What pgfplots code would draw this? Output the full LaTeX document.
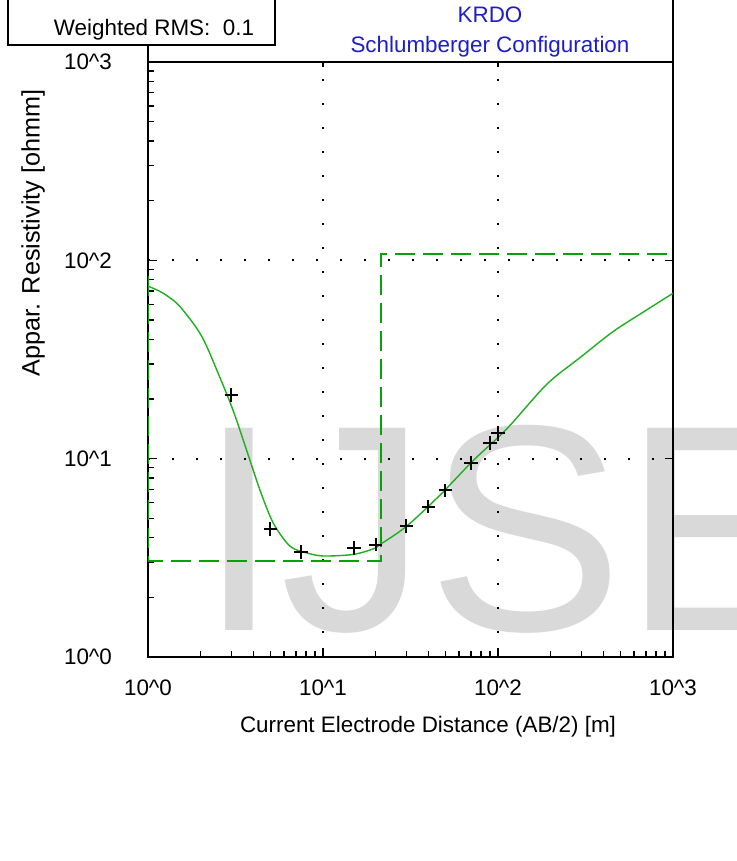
\documentclass[border=0pt]{standalone}
\usepackage{fontspec}
\setmainfont{Liberation Sans}
\usepackage{pgfplots}
\pgfplotsset{compat=1.18}

\definecolor{curvegreen}{RGB}{30,175,30}
\definecolor{modelgreen}{RGB}{10,160,10}
\definecolor{titleblue}{RGB}{30,30,200}
\definecolor{wmgray}{RGB}{217,217,217}

\newcommand{\lblfont}{\fontsize{11.2}{13}\selectfont}

\begin{document}
\begin{tikzpicture}
  % picture is 736 x 861 px, 1 px = 0.5 pt
  \useasboundingbox (0pt,0pt) rectangle (368pt,430.5pt);

  % watermark
  \begin{scope}
    \clip (0pt,0pt) rectangle (368pt,430.5pt);
    \node[anchor=base west, inner sep=0pt, text=wmgray,
          font=\fontsize{147}{150}\selectfont] at (99pt,115pt) {IJSE};
  \end{scope}

  \begin{axis}[
      at={(74pt,102pt)}, anchor=south west,
      scale only axis,
      width=262.5pt, height=297.5pt,
      xmode=log, ymode=log,
      xmin=1, xmax=1000,
      ymin=1, ymax=1000,
      xtick={1,10,100,1000},
      ytick={1,10,100,1000},
      xtick pos=bottom, ytick pos=left,
      xticklabels={10\textasciicircum 0,10\textasciicircum 1,10\textasciicircum 2,10\textasciicircum 3},
      yticklabels={10\textasciicircum 0,10\textasciicircum 1,10\textasciicircum 2,10\textasciicircum 3},
      ticklabel style={font=\lblfont},
      xticklabel style={yshift=-8pt},
      yticklabel style={xshift=-14.5pt},
      axis line style={line width=0.9pt},
      tick style={black, line width=0.7pt},
      major grid style={black, line width=0.9pt, dash pattern=on 0.9pt off 11.1pt},
      xmajorgrids, ymajorgrids,
    ]

    % layered model
    \addplot[modelgreen, line width=1pt, dash pattern=on 10pt off 4pt] coordinates {
      (0.5,87) (1.0,87) (1.0,3.05) (21.4,3.05) (21.4,108) (1000,108)
    };

    % calculated curve
    \addplot[curvegreen, line width=0.7pt, smooth] coordinates {
      (1.0,74.1) (1.223,68.2) (1.524,58.4) (2.027,41.4) (2.578,25.6)
      (3.072,17.4) (3.664,11.0) (4.365,6.94) (5.2,4.73) (6.48,3.62)
      (8.07,3.35) (10.04,3.23) (14.9,3.29) (19.4,3.51) (21.2,3.69)
      (30,4.56) (46.6,6.55) (72.3,9.8) (112,14.1)
      (189.8,23.7) (294,32.3) (456,43.8) (707,56.2) (1000,68.2)
    };

    % field data
    \addplot[only marks, mark=+, mark size=3.4pt, black, line width=1pt] coordinates {
      (3,20.9) (5,4.42) (7.5,3.38) (15,3.55) (20,3.69) (30,4.59)
      (40,5.73) (50,6.92) (70,9.52) (90,11.98) (100,13.45)
    };

    % short ticks on the top and right frame lines
    \draw[line width=0.7pt] (axis cs:10,1000) -- ++(0pt,-2.5pt);
    \draw[line width=0.7pt] (axis cs:100,1000) -- ++(0pt,-2.5pt);
    \draw[line width=0.7pt] (axis cs:1000,10) -- ++(-4pt,0pt);
    \draw[line width=0.7pt] (axis cs:1000,100) -- ++(-4pt,0pt);
  \end{axis}

  % frame extensions above the axis
  \draw[line width=0.9pt] (74pt,399.5pt) -- (74pt,408pt);
  \draw[line width=0.9pt] (336.5pt,399.5pt) -- (336.5pt,432pt);

  % RMS box
  \draw[line width=0.9pt, fill=white] (4pt,408pt) rectangle (137.5pt,434pt);
  \node[font=\lblfont] at (77pt,415.5pt) {Weighted RMS:\ \ 0.1};

  % titles
  \node[text=titleblue, font=\lblfont] at (245pt,423pt) {KRDO};
  \node[text=titleblue, font=\lblfont] at (245pt,407pt) {Schlumberger Configuration};

  % axis titles
  \node[font=\lblfont] at (214pt,67pt) {Current Electrode Distance (AB/2) [m]};
  \node[font=\fontsize{12.6}{14}\selectfont, rotate=90] at (16.5pt,314pt) {Appar. Resistivity [ohmm]};
\end{tikzpicture}
\end{document}
